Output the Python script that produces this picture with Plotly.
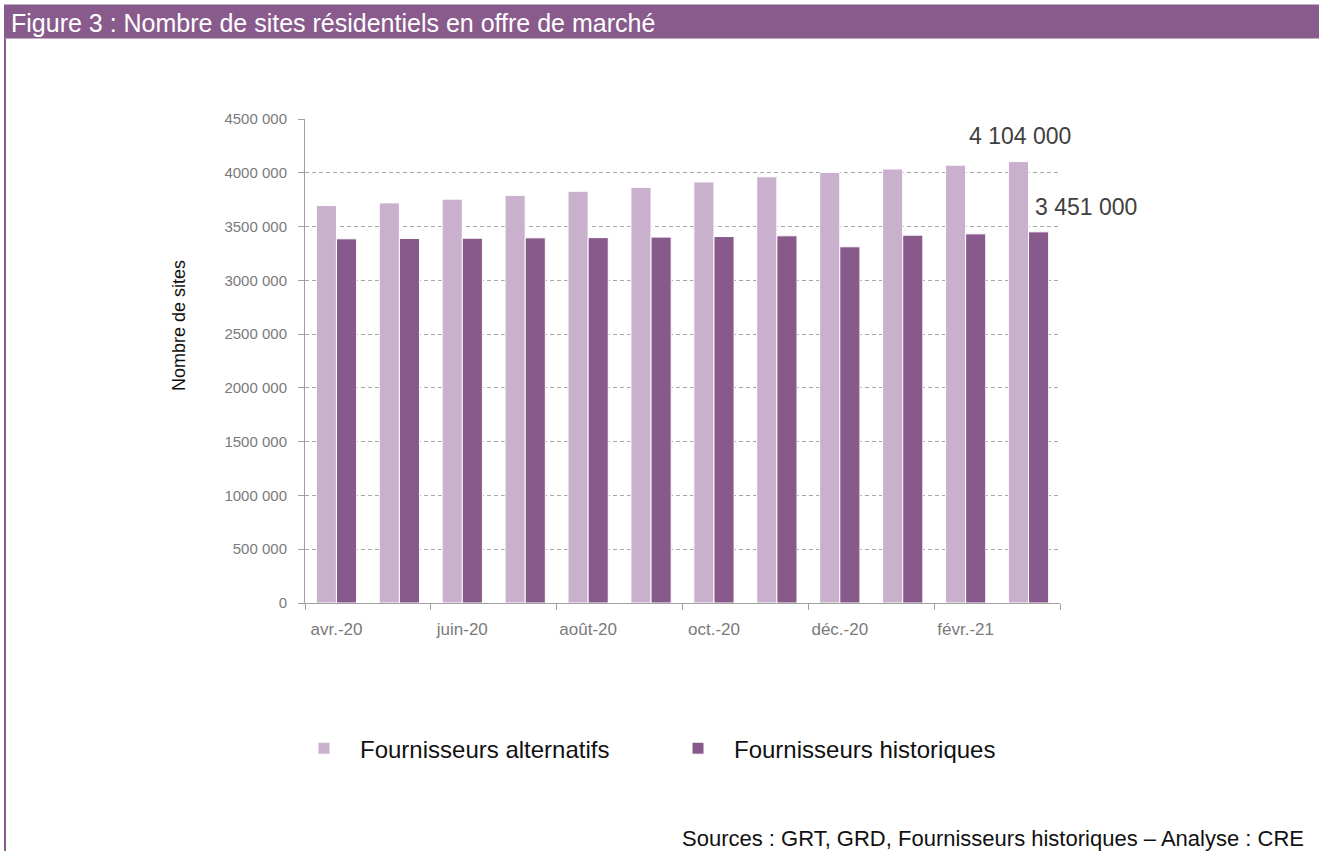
import plotly.graph_objects as go

# data
months = ['avr.-20', 'mai-20', 'juin-20', 'juil.-20', 'août-20', 'sept.-20',
          'oct.-20', 'nov.-20', 'déc.-20', 'janv.-21', 'févr.-21', 'mars-21']
alternatifs = [3695000, 3720000, 3755000, 3790000, 3828000, 3865000,
               3915000, 3963000, 4002000, 4035000, 4071000, 4104000]
historiques = [3386000, 3389000, 3392000, 3395000, 3397000, 3402000,
               3407000, 3414000, 3312000, 3420000, 3432000, 3451000]
shown_months = ['avr.-20', 'juin-20', 'août-20', 'oct.-20', 'déc.-20', 'févr.-21']
y_ticks = [0, 500000, 1000000, 1500000, 2000000, 2500000, 3000000, 3500000, 4000000, 4500000]
y_ticktext = ['0', '500 000', '1000 000', '1500 000', '2000 000', '2500 000',
              '3000 000', '3500 000', '4000 000', '4500 000']

light = 'rgb(201,176,205)'
dark = 'rgb(136,90,139)'
header = 'rgb(137,91,140)'
axis_grey = '#a0a0a0'
tick_grey = '#7a7a7a'
FONT = 'Liberation Sans'

W, H = 1319, 851
L, R, T, B = 305, 1060, 119.3, 602.6


def px(x):
    return (x - L) / (R - L)


def py(y):
    return (B - y) / (B - T)


def fmt(v):
    return f'{v:,}'.replace(',', ' ')


fig = go.Figure()
fig.add_trace(go.Bar(x=months, y=alternatifs, name='Fournisseurs alternatifs',
                     marker=dict(color=light, line=dict(color='white', width=1))))
fig.add_trace(go.Bar(x=months, y=historiques, name='Fournisseurs historiques',
                     marker=dict(color=dark, line=dict(color='white', width=1))))
# empty trace so the tick-only overlay axis gets drawn
fig.add_trace(go.Scatter(x=[], y=[], xaxis='x2', showlegend=False, hoverinfo='skip'))

# value labels on the last month
fig.add_annotation(x=months[-1], y=alternatifs[-1], text=fmt(alternatifs[-1]),
                   showarrow=False, xshift=-9, yshift=11, yanchor='bottom',
                   font=dict(family=FONT, size=23, color='#404040'))
fig.add_annotation(x=months[-1], y=historiques[-1], text=fmt(historiques[-1]),
                   showarrow=False, xanchor='left', xshift=4, yshift=10, yanchor='bottom',
                   font=dict(family=FONT, size=23, color='#404040'))

# header band and left border
fig.add_shape(type='rect', xref='paper', yref='paper',
              x0=px(4), x1=px(1320), y0=py(39), y1=py(5),
              fillcolor=header, line_width=0, layer='below')
fig.add_shape(type='line', xref='paper', yref='paper',
              x0=px(5), x1=px(5), y0=py(39), y1=py(852),
              line=dict(color=header, width=2))
fig.add_annotation(xref='paper', yref='paper', x=px(9), y=py(23),
                   text='Figure 3 : Nombre de sites résidentiels en offre de marché',
                   showarrow=False, xanchor='left', yanchor='middle',
                   font=dict(family=FONT, size=25, color='white'))

# axis title
fig.add_annotation(xref='paper', yref='paper', x=px(167), y=py(326),
                   text='Nombre de sites', textangle=-90, showarrow=False,
                   font=dict(family=FONT, size=18, color='#111111'))

# sources
fig.add_annotation(xref='paper', yref='paper', x=px(1306), y=py(838),
                   text='Sources : GRT, GRD, Fournisseurs historiques – Analyse : CRE',
                   showarrow=False, xanchor='right', yanchor='middle',
                   font=dict(family=FONT, size=22, color='#111111'))

fig.update_layout(
    width=W, height=H,
    margin=dict(l=L, r=W - R, t=T, b=H - B, autoexpand=False),
    paper_bgcolor='white', plot_bgcolor='white',
    barmode='group', bargap=0.36, bargroupgap=0,
    font=dict(family=FONT, color=tick_grey),
    showlegend=True,
    legend=dict(orientation='h', x=px(288), y=py(748), xanchor='left', yanchor='middle',
                font=dict(family=FONT, size=24, color='#111111'),
                entrywidth=297, itemwidth=62),
    xaxis=dict(type='category', range=[-0.5, 11.5],
               tickvals=shown_months, ticktext=shown_months, tickangle=0,
               ticks='', ticklabelstandoff=11,
               showline=True, linecolor=axis_grey, linewidth=1,
               showgrid=False, tickfont=dict(size=17, color=tick_grey)),
    xaxis2=dict(overlaying='x', anchor='y', side='bottom', range=[-0.5, 11.5],
                tickmode='linear', tick0=-0.5, dtick=2,
                ticks='outside', ticklen=6, tickcolor=axis_grey,
                showticklabels=False, showgrid=False, zeroline=False, showline=False),
    yaxis=dict(range=[0, 4500000], tickvals=y_ticks, ticktext=y_ticktext,
               ticks='outside', ticklen=6, tickcolor=axis_grey, ticklabelstandoff=8,
               showline=True, linecolor=axis_grey, linewidth=1,
               showgrid=True, gridcolor='#a6a6a6', griddash='4px,3px', gridwidth=1,
               zeroline=False, tickfont=dict(size=15, color=tick_grey)),
)

# the page body has a default 8px margin; drop it so pixels line up
fig.write_html('out.html', config={'displayModeBar': False},
               post_script="document.body.style.margin='0';")
